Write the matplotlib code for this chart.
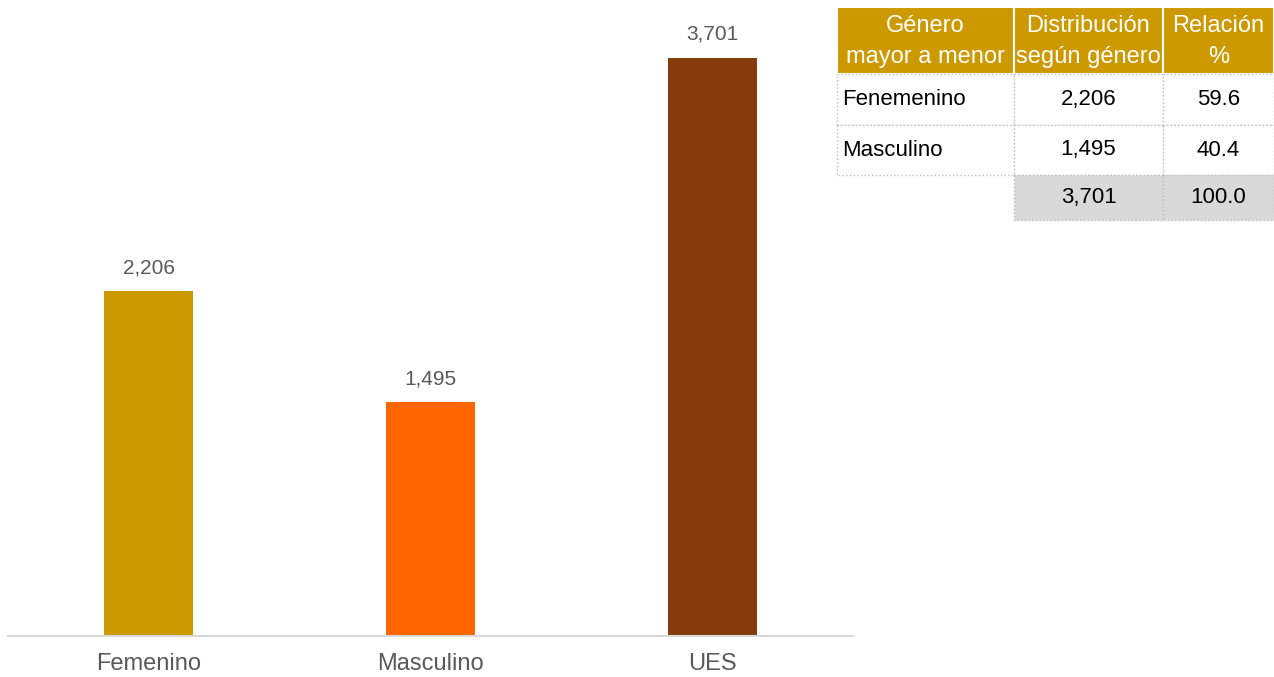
import matplotlib.pyplot as plt
from matplotlib.patches import Rectangle

plt.rcParams["font.family"] = ["Liberation Sans", "DejaVu Sans"]

# Chart data
categories = ["Femenino", "Masculino", "UES"]
values = [2206, 1495, 3701]
bar_colors = ["#CC9900", "#FF6600", "#843C0C"]

# Table data
table_header = ["Género\nmayor a menor", "Distribución\nsegún género", "Relación\n%"]
table_labels = ["Fenemenino", "Masculino"]
table_counts = ["2,206", "1,495"]
table_pcts = ["59.6", "40.4"]
total_count = "3,701"
total_pct = "100.0"

W, H = 1274, 677
fig = plt.figure(figsize=(W / 100, H / 100), dpi=100)

# Bar chart axes (pixel placement)
ax = fig.add_axes([8 / W, 41 / H, 845 / W, 636 / H])
x = range(len(categories))
bars = ax.bar(x, values, width=0.316, color=bar_colors)
ax.set_xlim(-0.5, 2.5)
ax.set_ylim(0, 4071)
for b, v in zip(bars, values):
    ax.text(b.get_x() + b.get_width() / 2, v + 90, f"{v:,}",
            ha="center", va="bottom", fontsize=15, color="#595959")
ax.set_xticks(list(x))
ax.set_xticklabels(categories, fontsize=17, color="#595959")
ax.tick_params(axis="x", length=0, pad=12)
ax.set_yticks([])
for s in ["top", "right", "left"]:
    ax.spines[s].set_visible(False)
ax.spines["bottom"].set_color("#D9D9D9")
ax.spines["bottom"].set_linewidth(1.5)

# Table drawn in pixel coordinates
tax = fig.add_axes([0, 0, 1, 1])
tax.set_xlim(0, W)
tax.set_ylim(H, 0)
tax.axis("off")

col_x = [837, 1014, 1163, 1274]
row_y = [7, 74, 125, 175, 220]
header_color = "#CC9900"
border = dict(edgecolor="#BFBFBF", linestyle=":", linewidth=1.0)

# header
for i in range(3):
    tax.add_patch(Rectangle((col_x[i], row_y[0]), col_x[i + 1] - col_x[i],
                            row_y[1] - row_y[0], facecolor=header_color,
                            edgecolor="white", linewidth=1.5))
    tax.text((col_x[i] + col_x[i + 1]) / 2, (row_y[0] + row_y[1]) / 2 + 1,
             table_header[i], ha="center", va="center", color="white",
             fontsize=17, linespacing=1.55)

# body rows
for r in range(2):
    y0, y1 = row_y[r + 1], row_y[r + 2]
    for i in range(3):
        tax.add_patch(Rectangle((col_x[i], y0), col_x[i + 1] - col_x[i], y1 - y0,
                                facecolor="white", **border))
    ym = (y0 + y1) / 2
    tax.text(col_x[0] + 5, ym, table_labels[r], ha="left", va="center",
             fontsize=16, color="black")
    tax.text((col_x[1] + col_x[2]) / 2, ym, table_counts[r], ha="center",
             va="center", fontsize=16, color="black")
    tax.text((col_x[2] + col_x[3]) / 2, ym, table_pcts[r], ha="center",
             va="center", fontsize=16, color="black")

# total row
y0, y1 = row_y[3], row_y[4]
for i in (1, 2):
    tax.add_patch(Rectangle((col_x[i], y0), col_x[i + 1] - col_x[i], y1 - y0,
                            facecolor="#D9D9D9", **border))
tax.text((col_x[1] + col_x[2]) / 2, (y0 + y1) / 2, total_count, ha="center",
         va="center", fontsize=16, color="black")
tax.text((col_x[2] + col_x[3]) / 2, (y0 + y1) / 2, total_pct, ha="center",
         va="center", fontsize=16, color="black")

fig.savefig("out.png", dpi=100)
